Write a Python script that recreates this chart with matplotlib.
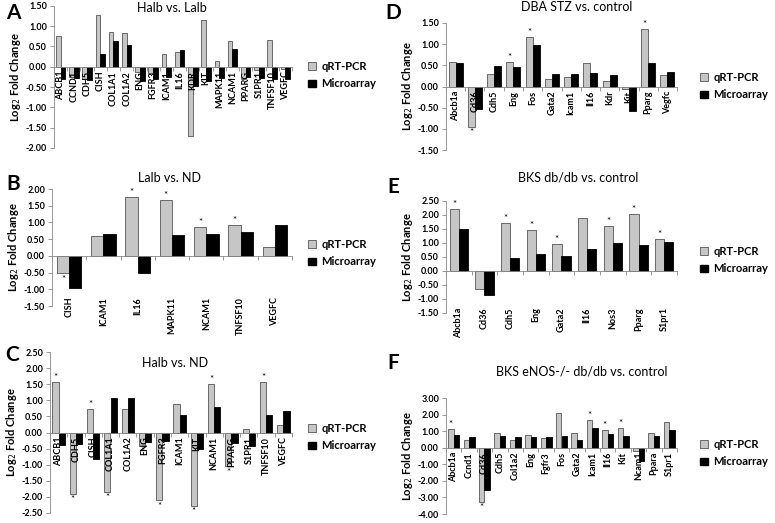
import numpy as np
import matplotlib.pyplot as plt
from matplotlib.patches import Patch

plt.rcParams['font.family'] = ['Lato', 'DejaVu Sans']

# Panel A: Halb vs. Lalb
genes_a = ['ABCB1', 'CCND1', 'CDH5', 'CISH', 'COL1A1', 'COL1A2', 'ENG', 'FGFR3', 'ICAM1',
           'IL16', 'KDR', 'KIT', 'MAPK11', 'NCAM1', 'PPARG', 'S1PR1', 'TNFSF10', 'VEGFC']
qpcr_a = [0.75, -0.25, -0.30, 1.27, 0.85, 0.83, -0.12, -0.15, 0.30,
          0.36, -1.70, 1.15, 0.15, 0.63, -0.30, -0.07, 0.66, -0.05]
micro_a = [-0.30, -0.28, -0.32, 0.32, 0.64, 0.54, -0.35, -0.30, -0.25,
           0.41, -0.48, -0.35, -0.28, 0.44, -0.25, -0.28, -0.30, -0.30]
star_a = [False] * 18

# Panel B: Lalb vs. ND
genes_b = ['CISH', 'ICAM1', 'IL16', 'MAPK11', 'NCAM1', 'TNFSF10', 'VEGFC']
qpcr_b = [-0.52, 0.60, 1.75, 1.68, 0.86, 0.92, 0.27]
micro_b = [-0.97, 0.66, -0.50, 0.63, 0.66, 0.72, 0.93]
star_b = [True, False, True, True, True, True, False]

# Panel C: Halb vs. ND
genes_c = ['ABCB1', 'CDH5', 'CISH', 'COL1A1', 'COL1A2', 'ENG', 'FGFR3', 'ICAM1', 'KIT',
           'NCAM1', 'PPARG', 'S1PR1', 'TNFSF10', 'VEGFC']
qpcr_c = [1.58, -1.90, 0.74, -1.85, 0.74, -0.42, -2.10, 0.90, -2.28,
          1.52, -1.05, 0.12, 1.58, 0.22]
micro_c = [-0.38, -0.36, -0.82, 1.07, 1.07, -0.28, -0.25, 0.55, -0.52,
           0.78, -0.32, -0.42, 0.55, 0.68]
star_c = [True, True, True, True, False, True, True, False, True,
          True, True, False, True, False]

# Panel D: DBA STZ vs. control
genes_d = ['Abcb1a', 'Cd36', 'Cdh5', 'Eng', 'Fos', 'Gata2', 'Icam1', 'Il16', 'Kdr',
           'Kit', 'Pparg', 'Vegfc']
qpcr_d = [0.59, -0.95, 0.29, 0.57, 1.18, 0.17, 0.22, 0.55, 0.12, -0.07, 1.37, 0.26]
micro_d = [0.55, -0.52, 0.48, 0.46, 0.97, 0.29, 0.29, 0.32, 0.27, -0.58, 0.55, 0.34]
star_d = [False, True, False, True, True, False, False, False, False, False, True, False]

# Panel E: BKS db/db vs. control
genes_e = ['Abcb1a', 'Cd36', 'Cdh5', 'Eng', 'Gata2', 'Il16', 'Nos3', 'Pparg', 'S1pr1']
qpcr_e = [2.23, -0.65, 1.73, 1.46, 0.97, 1.90, 1.60, 2.05, 1.14]
micro_e = [1.50, -0.85, 0.45, 0.62, 0.52, 0.77, 1.01, 0.94, 1.04]
star_e = [True, False, True, True, True, False, True, True, True]

# Panel F: BKS eNOS-/- db/db vs. control
genes_f = ['Abcb1a', 'Ccnd1', 'Cd36', 'Cdh5', 'Col1a2', 'Eng', 'Fgfr3', 'Fos', 'Gata2',
           'Icam1', 'Il16', 'Kit', 'Ncam1', 'Ppara', 'S1pr1']
qpcr_f = [1.10, 0.45, -3.25, 0.88, 0.45, 0.78, 0.57, 2.12, 0.88,
          1.70, 1.05, 1.20, -0.22, 0.88, 1.55]
micro_f = [0.78, 0.62, -2.55, 0.68, 0.62, 0.62, 0.62, 0.72, 0.45,
           1.20, 0.80, 0.72, -0.80, 0.68, 1.05]
star_f = [True, False, True, False, False, False, False, False, False,
          True, True, True, False, False, False]

GRAY = '#c6c6c6'
W, H = 775, 523

fig = plt.figure(figsize=(7.75, 5.23), dpi=100)


def px_axes(x0, x1, ytop, ybot):
    return fig.add_axes([x0 / W, 1 - ybot / H, (x1 - x0) / W, (ybot - ytop) / H])


def panel(box, genes, qpcr, micro, stars, ylim, step, label_y, title, title_xy,
          letter, letter_xy, leg_xy):
    ax = px_axes(*box)
    n = len(genes)
    x = np.arange(n)
    w = 0.36
    ax.bar(x - w / 2, qpcr, w, color=GRAY, edgecolor='#555555', linewidth=0.6, zorder=2)
    ax.bar(x + w / 2, micro, w, color='black', edgecolor='black', linewidth=0.6, zorder=2)
    ax.set_xlim(-0.5, n - 0.5)
    ax.set_ylim(*ylim)
    ticks = np.arange(ylim[0], ylim[1] + step / 2, step)
    ax.set_yticks(ticks)
    ax.set_yticklabels(['%.2f' % t for t in ticks], fontsize=6.5, fontweight='bold')
    ax.set_xticks(np.arange(n + 1) - 0.5)
    ax.set_xticklabels([])
    ax.tick_params(axis='x', length=3, width=0.6, color='#888888')
    ax.tick_params(axis='y', length=3, width=0.6, color='#888888', pad=2)
    for s in ['top', 'right']:
        ax.spines[s].set_visible(False)
    ax.spines['bottom'].set_position(('data', 0))
    ax.spines['bottom'].set_color('#888888')
    ax.spines['left'].set_color('#888888')
    ax.spines['bottom'].set_linewidth(0.6)
    ax.spines['left'].set_linewidth(0.6)
    ax.set_ylabel('Log$_2$ Fold Change', fontsize=8, fontweight='bold', labelpad=2)
    for i, g in enumerate(genes):
        ax.annotate(g, (i, label_y), xytext=(0, -3), textcoords='offset points',
                    rotation=90, ha='center', va='top', fontsize=6.5, fontweight='bold',
                    zorder=3)
        if stars[i]:
            v = qpcr[i]
            if v >= 0:
                ax.annotate('*', (i - w / 2, v), xytext=(0, 0), textcoords='offset points',
                            ha='center', va='bottom', fontsize=7)
            else:
                ax.annotate('*', (i - w / 2, v), xytext=(0, -1), textcoords='offset points',
                            ha='center', va='top', fontsize=7)
    fig.text(title_xy[0] / W, 1 - title_xy[1] / H, title, ha='center', va='center', fontsize=9)
    fig.text(letter_xy[0] / W, 1 - letter_xy[1] / H, letter, ha='center', va='center',
             fontsize=15, fontweight='bold')
    handles = [Patch(facecolor=GRAY, edgecolor='#555555', linewidth=0.6, label='qRT-PCR'),
               Patch(facecolor='black', edgecolor='black', label='Microarray')]
    ax.legend(handles=handles, loc='center left', bbox_to_anchor=(leg_xy[0] / W, 1 - leg_xy[1] / H),
              bbox_transform=fig.transFigure, frameon=False, handlelength=0.7, handleheight=0.7,
              handletextpad=0.5, labelspacing=0.6, borderpad=0, borderaxespad=0,
              prop={'size': 8, 'weight': 'bold'})
    return ax


panel((54, 292, 5.7, 148), genes_a, qpcr_a, micro_a, star_a, (-2.0, 1.5), 0.5, 0,
      'Halb vs. Lalb', (172, 8), 'A', (13, 13), (308, 75))
panel((52, 292, 189, 306), genes_b, qpcr_b, micro_b, star_b, (-1.5, 2.0), 0.5, -1.1,
      'Lalb vs. ND', (170, 178), 'B', (13, 184), (308, 253))
panel((50, 292, 352, 513), genes_c, qpcr_c, micro_c, star_c, (-2.5, 2.5), 0.5, 0,
      'Halb vs. ND', (175, 363), 'C', (12, 355), (308, 437))
panel((446, 677, 23, 150), genes_d, qpcr_d, micro_d, star_d, (-1.5, 1.5), 0.5, 0,
      'DBA STZ vs. control', (577, 7), 'D', (393, 13), (700, 86))
panel((446, 677, 201, 313), genes_e, qpcr_e, micro_e, star_e, (-1.5, 2.5), 0.5, -1.15,
      'BKS db/db vs. control', (578, 178), 'E', (393, 187), (700, 260))
panel((446, 677, 398, 514), genes_f, qpcr_f, micro_f, star_f, (-4.0, 3.0), 1.0, 0,
      'BKS eNOS-/- db/db vs. control', (582, 372), 'F', (393, 363), (700, 453))

fig.savefig('out.png', dpi=100)
